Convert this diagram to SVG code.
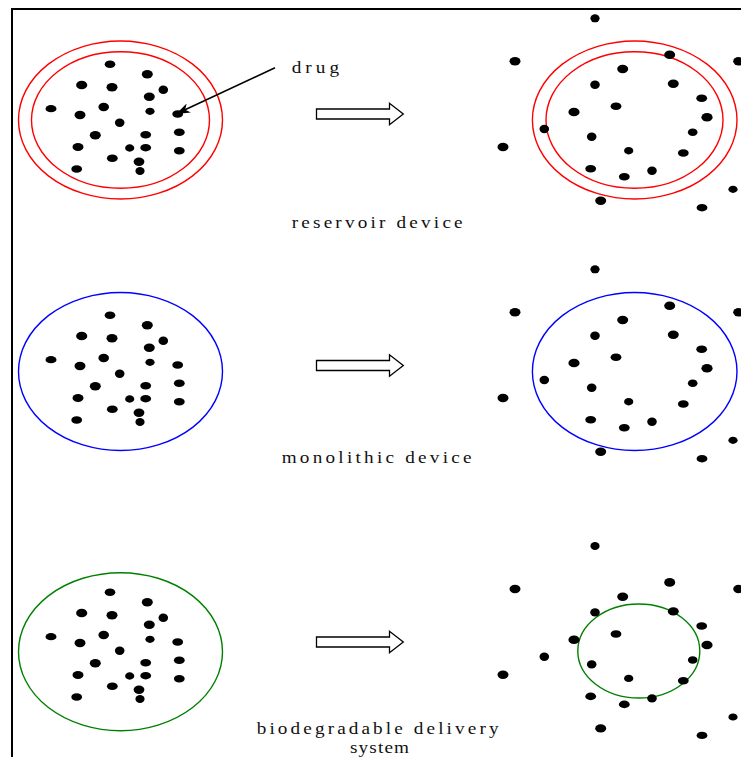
<svg xmlns="http://www.w3.org/2000/svg" xmlns:xlink="http://www.w3.org/1999/xlink" width="741" height="757" viewBox="0 0 741 757">
<style>
.lbl{font-family:"Liberation Serif","Times New Roman",serif;font-size:16px;fill:#111}
.red{fill:none;stroke:#ff0000;stroke-width:1.4}
.blue{fill:none;stroke:#0000ff;stroke-width:1.4}
.green{fill:none;stroke:#008000;stroke-width:1.4}
.hollow{fill:#fff;stroke:#000;stroke-width:1.3;stroke-linejoin:miter}
.frame{fill:none;stroke:#000;stroke-width:2}
</style>
<defs>
<marker id="ah" viewBox="0 0 14 10" refX="13" refY="5" markerWidth="14" markerHeight="10" markerUnits="userSpaceOnUse" orient="auto">
<path d="M0,0 L14,5 L0,10 L4,5 Z" fill="#000"/>
</marker>
<g id="dotsL" fill="#000">
<ellipse cx="110" cy="64.3" rx="5.3" ry="3.8"/>
<ellipse cx="147.3" cy="74.3" rx="5.5" ry="4.2"/>
<ellipse cx="81.7" cy="85" rx="5.6" ry="4.3"/>
<ellipse cx="112" cy="87.3" rx="5.5" ry="4.2"/>
<ellipse cx="163.3" cy="89.7" rx="4.8" ry="4.3"/>
<ellipse cx="149.3" cy="96.7" rx="5.5" ry="4.2"/>
<ellipse cx="51" cy="108.7" rx="5.5" ry="3.6"/>
<ellipse cx="80" cy="115" rx="5.5" ry="4.2"/>
<ellipse cx="103.7" cy="107" rx="5.3" ry="4.2"/>
<ellipse cx="150" cy="111.3" rx="4.6" ry="3.6"/>
<ellipse cx="177.7" cy="114" rx="5.4" ry="3.8"/>
<ellipse cx="119.7" cy="122.7" rx="4.8" ry="4.2"/>
<ellipse cx="95.3" cy="135.3" rx="5.5" ry="4.2"/>
<ellipse cx="145.7" cy="134.7" rx="5.4" ry="3.8"/>
<ellipse cx="179.3" cy="132.3" rx="5.4" ry="3.8"/>
<ellipse cx="78" cy="147" rx="5.5" ry="4"/>
<ellipse cx="129.7" cy="148" rx="4.6" ry="3.7"/>
<ellipse cx="145.7" cy="147.7" rx="5.4" ry="3.7"/>
<ellipse cx="179.3" cy="150.7" rx="5.4" ry="3.8"/>
<ellipse cx="112.3" cy="158.3" rx="5.4" ry="3.8"/>
<ellipse cx="139" cy="161.7" rx="5.4" ry="4.2"/>
<ellipse cx="140" cy="171" rx="4.6" ry="4"/>
<ellipse cx="76.7" cy="169" rx="5.4" ry="3.8"/>
</g>
<g id="dotsR" fill="#000">
<ellipse cx="595" cy="18.3" rx="4.6" ry="4"/>
<ellipse cx="515" cy="61.3" rx="5.5" ry="4.2"/>
<ellipse cx="669.7" cy="54.7" rx="5.5" ry="4.3"/>
<ellipse cx="738.7" cy="61.3" rx="5.5" ry="4.2"/>
<ellipse cx="622.7" cy="69" rx="5.5" ry="4.2"/>
<ellipse cx="595" cy="84.7" rx="4.8" ry="4.2"/>
<ellipse cx="673.3" cy="83.7" rx="5.5" ry="4.2"/>
<ellipse cx="701.7" cy="98.3" rx="5.4" ry="3.8"/>
<ellipse cx="574" cy="112" rx="5.6" ry="4.3"/>
<ellipse cx="616" cy="106.3" rx="5.4" ry="3.8"/>
<ellipse cx="707" cy="117.3" rx="5.6" ry="4.3"/>
<ellipse cx="544.3" cy="129" rx="4.8" ry="4.2"/>
<ellipse cx="591.7" cy="136.7" rx="4.8" ry="4.2"/>
<ellipse cx="692.7" cy="132.3" rx="4.8" ry="3.8"/>
<ellipse cx="503" cy="147" rx="5.5" ry="4.2"/>
<ellipse cx="628.7" cy="150.7" rx="4.6" ry="3.7"/>
<ellipse cx="683.3" cy="153" rx="5.4" ry="3.8"/>
<ellipse cx="590.7" cy="168.7" rx="5.4" ry="3.8"/>
<ellipse cx="624.3" cy="176.7" rx="5.4" ry="3.8"/>
<ellipse cx="652" cy="170.7" rx="4.8" ry="4.2"/>
<ellipse cx="600.7" cy="200.7" rx="5.5" ry="4.2"/>
<ellipse cx="733" cy="189.3" rx="4.6" ry="3.6"/>
<ellipse cx="702" cy="207.7" rx="5.4" ry="3.7"/>
</g>
<path id="hollowArrow" class="hollow" d="M316.5,-5 L389.5,-5 L389.5,-10.7 L403.3,0 L389.5,10.7 L389.5,5 L316.5,5 Z"/>
</defs>

<g id="frame">
<path class="frame" d="M12,757 L12,9 L741,9"/>
</g>

<g id="reservoir-before">
<ellipse class="red" cx="120.5" cy="120" rx="102" ry="79"/>
<ellipse class="red" cx="120.5" cy="120" rx="89" ry="68.3"/>
<use xlink:href="#dotsL"/>
</g>
<g id="reservoir-after">
<ellipse class="red" cx="634.7" cy="120" rx="102.3" ry="79"/>
<ellipse class="red" cx="634.5" cy="120" rx="88.5" ry="68.3"/>
<use xlink:href="#dotsR"/>
</g>
<g id="drug-label">
<text class="lbl" transform="translate(291.7,72.5) scale(1.2,1)" letter-spacing="3.4">drug</text>
</g>
<g id="reservoir-label">
<text class="lbl" transform="translate(291.7,228.3) scale(1.2,1)" letter-spacing="2.66">reservoir device</text>
</g>

<g id="monolithic-before">
<ellipse class="blue" cx="120.5" cy="371.5" rx="102" ry="79"/>
<use xlink:href="#dotsL" transform="translate(0,251)"/>
</g>
<g id="monolithic-after">
<ellipse class="blue" cx="634.7" cy="371.5" rx="102.3" ry="79"/>
<use xlink:href="#dotsR" transform="translate(0,251)"/>
</g>
<g id="monolithic-label">
<text class="lbl" transform="translate(281.7,463.3) scale(1.2,1)" letter-spacing="2.7">monolithic device</text>
</g>

<g id="biodegradable-before">
<ellipse class="green" cx="120.5" cy="651.7" rx="102" ry="79"/>
<use xlink:href="#dotsL" transform="translate(0,528)"/>
</g>
<g id="biodegradable-after">
<ellipse class="green" cx="638.8" cy="651" rx="61" ry="47"/>
<use xlink:href="#dotsR" transform="translate(0,527.7)"/>
</g>
<g id="biodegradable-label">
<text class="lbl" transform="translate(256.7,734) scale(1.2,1)" letter-spacing="2.6">biodegradable delivery</text>
<text class="lbl" transform="translate(350,753.3) scale(1.2,1)" letter-spacing="0.95">system</text>
</g>

<g id="connectors">
<line x1="275" y1="67.7" x2="177" y2="113.5" stroke="#000" stroke-width="1.6" marker-end="url(#ah)"/>
<use xlink:href="#hollowArrow" transform="translate(0,114)"/>
<use xlink:href="#hollowArrow" transform="translate(0,365.5)"/>
<use xlink:href="#hollowArrow" transform="translate(0,642)"/>
</g>
</svg>
